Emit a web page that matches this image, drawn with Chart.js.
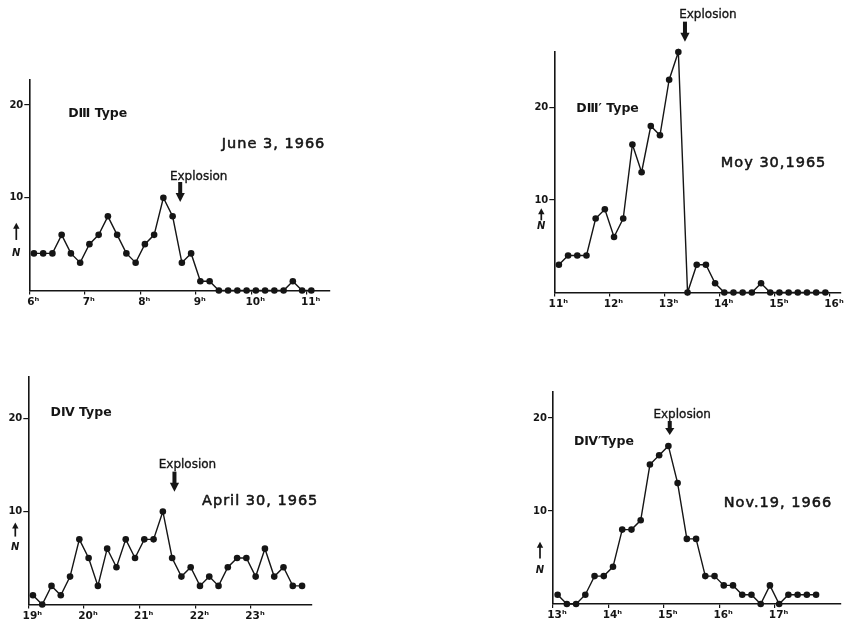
<!DOCTYPE html>
<html>
<head>
<meta charset="utf-8">
<script src="https://cdn.jsdelivr.net/npm/chart.js@4.4.1/dist/chart.umd.min.js"></script>
<style>
  html, body { margin: 0; padding: 0; background: #fff; }
  #sheet { position: relative; width: 845px; height: 622px; overflow: hidden; background: #fff; }
  #sheet canvas { position: absolute; left: 0; top: 0; }
</style>
</head>
<body>
<div id="sheet">
  <canvas id="pD3" width="845" height="622"></canvas>
  <canvas id="pD3p" width="845" height="622"></canvas>
  <canvas id="pD4" width="845" height="622"></canvas>
  <canvas id="pD4p" width="845" height="622"></canvas>
</div>
<script>
// Number of events N in successive 10-minute intervals, one list per day.

// DIII type, June 3, 1966
const timesD3 = ["6:05","6:15","6:25","6:35","6:45","6:55","7:05","7:15","7:25","7:35","7:45","7:55",
                 "8:05","8:15","8:25","8:35","8:45","8:55","9:05","9:15","9:25","9:35","9:45","9:55",
                 "10:05","10:15","10:25","10:35","10:45","10:55","11:05"];
const countsD3 = [4,4,4,6,4,3,5,6,8,6,4,3,5,6,10,8,3,4,1,1,0,0,0,0,0,0,0,0,1,0,0];
const hoursD3 = [6,7,8,9,10,11];

// DIII' type, May 30, 1965
const timesD3p = ["11:05","11:15","11:25","11:35","11:45","11:55","12:05","12:15","12:25","12:35","12:45","12:55",
                  "13:05","13:15","13:25","13:35","13:45","13:55","14:05","14:15","14:25","14:35","14:45","14:55",
                  "15:05","15:15","15:25","15:35","15:45","15:55"];
const countsD3p = [3,4,4,4,8,9,6,8,16,13,18,17,23,26,0,3,3,1,0,0,0,0,1,0,0,0,0,0,0,0];
const hoursD3p = [11,12,13,14,15,16];

// DIV type, April 30, 1965
const timesD4 = ["19:05","19:15","19:25","19:35","19:45","19:55","20:05","20:15","20:25","20:35","20:45","20:55",
                 "21:05","21:15","21:25","21:35","21:45","21:55","22:05","22:15","22:25","22:35","22:45","22:55",
                 "23:05","23:15","23:25","23:35","23:45","23:55"];
const countsD4 = [1,0,2,1,3,7,5,2,6,4,7,5,7,7,10,5,3,4,2,3,2,4,5,5,3,6,3,4,2,2];
const hoursD4 = [19,20,21,22,23];

// DIV' type, Nov. 19, 1966
const timesD4p = ["13:05","13:15","13:25","13:35","13:45","13:55","14:05","14:15","14:25","14:35","14:45","14:55",
                  "15:05","15:15","15:25","15:35","15:45","15:55","16:05","16:15","16:25","16:35","16:45","16:55",
                  "17:05","17:15","17:25","17:35","17:45"];
const countsD4p = [1,0,0,1,3,3,4,8,8,9,15,16,17,13,7,7,3,3,2,2,1,1,0,2,0,1,1,1,1];
const hoursD4p = [13,14,15,16,17];

// Labelled y ticks shared by all four panels
const yTicks = [10, 20];

const FONT = '"DejaVu Sans", "Liberation Sans", sans-serif';
const INK = '#151515';
const PAGE_W = 845, PAGE_H = 622;
const Y_BOX = 20, X_BOX = 24;

const toHours = s => { const [h, m] = s.split(':').map(Number); return h + m / 60; };

// Panel layout and annotations (annotation positions in axis units: hours, N)
const panels = [
  { canvas: 'pD3', times: timesD3, counts: countsD3, hours: hoursD3,
    area: { left: 29.3, top: 80, right: 330, bottom: 290.5 }, xRange: [6, 11.42], yMax: 22.7,
    title: 'D\u2162 Type', titleAt: [6.70, 18.7],
    date: 'June 3, 1966', dateAt: [9.47, 15.4],
    explosion: { labelAt: [8.535, 11.97], at: 8.72, from: 11.7, to: 9.55 },
    nMark: { top: 7.3, bottom: 5.45, n: 4.05 } },
  { canvas: 'pD3p', times: timesD3p, counts: countsD3p, hours: hoursD3p,
    area: { left: 554.3, top: 52, right: 843, bottom: 292.5 }, xRange: [11, 16.2], yMax: 26,
    title: 'D\u2162\u2032 Type', titleAt: [11.40, 19.55],
    date: 'Moy 30,1965', dateAt: [14.02, 13.54],
    explosion: { labelAt: [13.265, 29.64], at: 13.37, from: 29.28, to: 27.11 },
    nMark: { top: 9.1, bottom: 7.8, n: 7.1 } },
  { canvas: 'pD4', times: timesD4, counts: countsD4, hours: hoursD4,
    area: { left: 28.3, top: 377, right: 311.7, bottom: 604.5 }, xRange: [19, 24.09], yMax: 24.45,
    title: 'D\u2163 Type', titleAt: [19.40, 20.27],
    date: 'April 30, 1965', dateAt: [22.12, 10.7],
    explosion: { labelAt: [21.342, 14.71], at: 21.625, from: 14.28, to: 12.13 },
    nMark: { top: 8.8, bottom: 7.3, n: 6.1 } },
  { canvas: 'pD4p', times: timesD4p, counts: countsD4p, hours: hoursD4p,
    area: { left: 553.0, top: 392, right: 841.7, bottom: 604 }, xRange: [13, 18.2], yMax: 22.8,
    title: 'D\u2163\u2032Type', titleAt: [13.377, 17.1],
    date: 'Nov.19, 1966', dateAt: [16.083, 10.4],
    explosion: { labelAt: [14.813, 19.97], at: 15.108, from: 19.68, to: 18.17 },
    nMark: { top: 6.7, bottom: 4.9, n: 3.65 } }
];

// Fill text and give it a thin outline so the strokes read a little heavier
function inkText(ctx, text, x, y, weight) {
  ctx.fillText(text, x, y);
  if (weight > 0) {
    ctx.lineWidth = weight;
    ctx.strokeText(text, x, y);
  }
}

// Draws the panel title, date, explosion marker and the "N" axis mark
const annotate = {
  id: 'annotate',
  afterDraw(chart, args, o) {
    const { ctx, scales: { x, y }, chartArea } = chart;
    ctx.save();
    ctx.fillStyle = INK;
    ctx.strokeStyle = INK;
    ctx.lineJoin = 'round';
    ctx.textBaseline = 'alphabetic';
    ctx.textAlign = 'left';

    // title
    ctx.font = 'bold 12.5px ' + FONT;
    inkText(ctx, o.title, x.getPixelForValue(o.titleAt[0]), y.getPixelForValue(o.titleAt[1]), 0);

    // date
    ctx.font = '14.5px ' + FONT;
    ctx.letterSpacing = '1px';
    inkText(ctx, o.date, x.getPixelForValue(o.dateAt[0]), y.getPixelForValue(o.dateAt[1]), 0.55);
    ctx.letterSpacing = '0px';

    // explosion label and arrow
    const e = o.explosion;
    ctx.font = '12px ' + FONT;
    inkText(ctx, 'Explosion', x.getPixelForValue(e.labelAt[0]), y.getPixelForValue(e.labelAt[1]), 0.35);
    const ax = x.getPixelForValue(e.at);
    const yTop = y.getPixelForValue(e.from), yTip = y.getPixelForValue(e.to);
    const headH = Math.min(9, (yTip - yTop) * 0.5);
    ctx.fillRect(ax - 2, yTop, 4, yTip - yTop - headH + 0.5);
    ctx.beginPath();
    ctx.moveTo(ax - 4.6, yTip - headH);
    ctx.lineTo(ax + 4.6, yTip - headH);
    ctx.lineTo(ax, yTip);
    ctx.closePath();
    ctx.fill();

    // upward arrow with N beside the y axis
    const n = o.nMark;
    const nx = chartArea.left - 13;
    const nTop = y.getPixelForValue(n.top), nBot = y.getPixelForValue(n.bottom);
    ctx.lineWidth = 1.7;
    ctx.beginPath();
    ctx.moveTo(nx, nBot);
    ctx.lineTo(nx, nTop + 5);
    ctx.stroke();
    ctx.beginPath();
    ctx.moveTo(nx - 3.2, nTop + 6);
    ctx.lineTo(nx + 3.2, nTop + 6);
    ctx.lineTo(nx, nTop);
    ctx.closePath();
    ctx.fill();
    ctx.font = 'italic bold 10px ' + FONT;
    ctx.textAlign = 'center';
    ctx.textBaseline = 'middle';
    ctx.fillText('N', nx, y.getPixelForValue(n.n));
    ctx.restore();
  }
};

Chart.defaults.color = INK;

panels.forEach(p => {
  const a = p.area;
  new Chart(document.getElementById(p.canvas), {
    type: 'line',
    data: {
      datasets: [{
        data: p.times.map((t, i) => ({ x: toHours(t), y: p.counts[i] })),
        borderColor: INK,
        borderWidth: 1.4,
        backgroundColor: INK,
        pointBackgroundColor: INK,
        pointBorderWidth: 0,
        pointRadius: 3.3,
        tension: 0,
        fill: false,
        clip: false
      }]
    },
    options: {
      responsive: false,
      animation: false,
      events: [],
      layout: {
        padding: {
          left: a.left - Y_BOX,
          top: a.top,
          right: PAGE_W - a.right,
          bottom: PAGE_H - a.bottom - X_BOX
        }
      },
      plugins: {
        legend: { display: false },
        tooltip: { enabled: false },
        annotate: {
          title: p.title, titleAt: p.titleAt,
          date: p.date, dateAt: p.dateAt,
          explosion: p.explosion, nMark: p.nMark
        }
      },
      scales: {
        x: {
          type: 'linear',
          min: p.xRange[0],
          max: p.xRange[1],
          afterBuildTicks: s => { s.ticks = p.hours.map(v => ({ value: v })); },
          afterFit: s => { s.height = X_BOX; s.paddingLeft = 0; s.paddingRight = 0; },
          border: { display: true, color: INK, width: 1.6 },
          grid: { display: true, drawOnChartArea: false, drawTicks: true, tickLength: 4, color: INK, lineWidth: 1.2 },
          ticks: {
            callback: v => v + '\u02B0',
            font: { family: FONT, size: 10.5, weight: 'bold' },
            color: INK,
            padding: 1,
            labelOffset: 4,
            maxRotation: 0,
            autoSkip: false
          }
        },
        y: {
          type: 'linear',
          min: 0,
          max: p.yMax,
          afterBuildTicks: s => { s.ticks = yTicks.map(v => ({ value: v })); },
          afterFit: s => { s.width = Y_BOX; s.paddingTop = 0; s.paddingBottom = 0; },
          border: { display: true, color: INK, width: 1.6 },
          grid: { display: true, drawOnChartArea: false, drawTicks: true, tickLength: 5, color: INK, lineWidth: 1.2 },
          ticks: {
            callback: v => String(v),
            font: { family: FONT, size: 10, weight: 'bold' },
            color: INK,
            padding: 1,
            autoSkip: false
          }
        }
      }
    },
    plugins: [annotate]
  });
});
</script>
</body>
</html>
